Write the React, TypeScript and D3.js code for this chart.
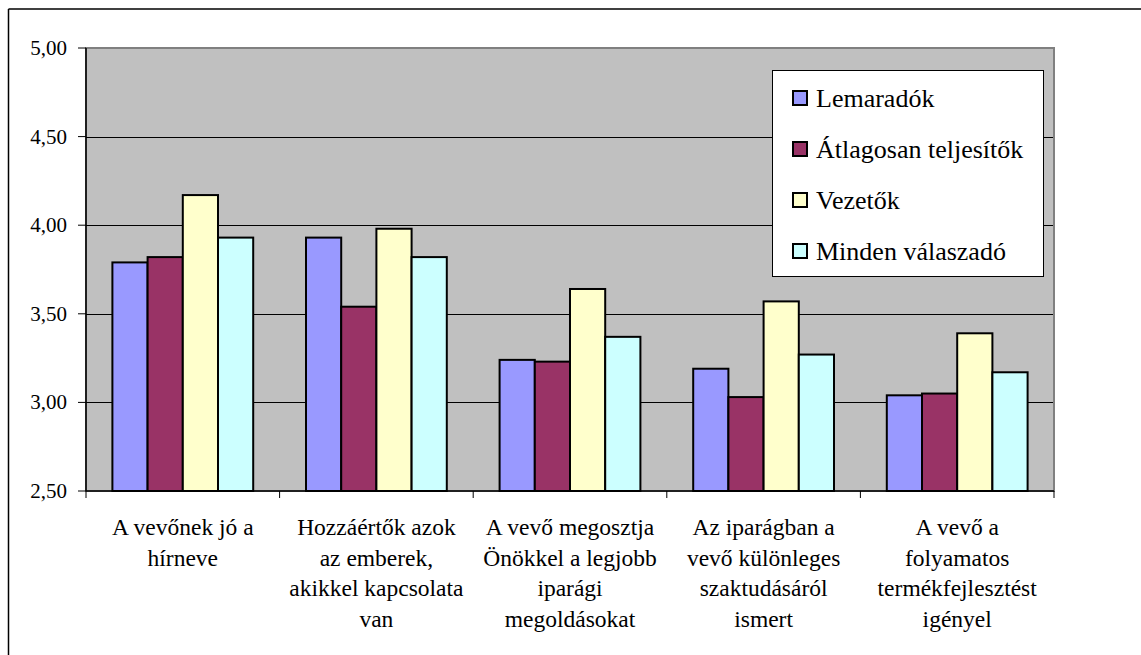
import React from "react";
import * as d3 from "d3";

const width = 1141;
const height = 655;
const plot = { left: 86, right: 1054, top: 48, bottom: 491 };
const font = '"Liberation Serif", "Times New Roman", Times, "DejaVu Serif", serif';

// data
const categories = [
  ["A vevőnek jó a", "hírneve"],
  ["Hozzáértők azok", "az emberek,", "akikkel kapcsolata", "van"],
  ["A vevő megosztja", "Önökkel a legjobb", "iparági", "megoldásokat"],
  ["Az iparágban a", "vevő különleges", "szaktudásáról", "ismert"],
  ["A vevő a", "folyamatos", "termékfejlesztést", "igényel"]
];
const seriesNames = ["Lemaradók", "Átlagosan teljesítők", "Vezetők", "Minden válaszadó"];
const seriesColors = ["#9999FF", "#993366", "#FFFFCC", "#CCFFFF"];
const lemaradok = [3.79, 3.93, 3.24, 3.19, 3.04];
const atlagosan = [3.82, 3.54, 3.23, 3.03, 3.05];
const vezetok = [4.17, 3.98, 3.64, 3.57, 3.39];
const mindenki = [3.93, 3.82, 3.37, 3.27, 3.17];
const seriesValues = [lemaradok, atlagosan, vezetok, mindenki];
const yTicks = [2.5, 3.0, 3.5, 4.0, 4.5, 5.0];

const fmt = (d: number) => d.toFixed(2).replace(".", ",");
const txt = { fontFamily: font };

export default function App() {
  const x0 = d3
    .scaleBand<number>()
    .domain(d3.range(categories.length))
    .range([plot.left, plot.right])
    .paddingInner(0)
    .paddingOuter(0);
  const band = x0.bandwidth();
  const bw = band / 5.5; // excel gap width 150%
  const x1 = d3
    .scaleBand<number>()
    .domain(d3.range(seriesNames.length))
    .range([bw * 0.75, band - bw * 0.75]);
  const y = d3.scaleLinear().domain([2.5, 5]).range([plot.bottom, plot.top]);

  return (
    <svg
      width={width}
      height={height}
      style={{ position: "absolute", left: 0, top: 0, background: "#fff", fontFamily: font }}
    >
      {/* outer frame, only top and left visible */}
      <line x1={8.5} y1={9} x2={width} y2={9} stroke="#000" strokeWidth={1.5} />
      <line x1={8.5} y1={9} x2={8.5} y2={height} stroke="#000" strokeWidth={1.5} />

      {/* plot area */}
      <rect
        x={plot.left}
        y={plot.top}
        width={plot.right - plot.left}
        height={plot.bottom - plot.top}
        fill="#C0C0C0"
        stroke="#808080"
        strokeWidth={2}
      />
      {yTicks.slice(1, -1).map(t => (
        <line
          key={"g" + t}
          x1={plot.left}
          x2={plot.right - 1}
          y1={Math.round(y(t)) + 0.5}
          y2={Math.round(y(t)) + 0.5}
          stroke="#000"
          strokeWidth={1}
        />
      ))}

      {/* bars */}
      {seriesValues.map((vals, s) =>
        vals.map((v, i) => (
          <rect
            key={s + "-" + i}
            x={(x0(i) as number) + (x1(s) as number)}
            y={y(v)}
            width={x1.bandwidth()}
            height={plot.bottom - y(v)}
            fill={seriesColors[s]}
            stroke="#000"
            strokeWidth={2}
          />
        ))
      )}

      {/* y axis */}
      <line x1={plot.left} x2={plot.left} y1={plot.top} y2={plot.bottom} stroke="#000" strokeWidth={1.5} />
      {yTicks.map(t => (
        <g key={"y" + t}>
          <line x1={78} x2={plot.left} y1={y(t)} y2={y(t)} stroke="#000" strokeWidth={1} />
          <text x={67} y={y(t)} dy="0.33em" textAnchor="end" fontSize={21} fill="#000" style={txt}>
            {fmt(t)}
          </text>
        </g>
      ))}

      {/* x axis */}
      <line x1={plot.left} x2={plot.right} y1={plot.bottom} y2={plot.bottom} stroke="#000" strokeWidth={1.5} />
      {d3.range(categories.length + 1).map(i => {
        const xx = plot.left + i * band;
        return <line key={"xt" + i} x1={xx} x2={xx} y1={plot.bottom} y2={plot.bottom + 7} stroke="#000" strokeWidth={1} />;
      })}
      {categories.map((lines, i) => (
        <text
          key={"c" + i}
          x={(x0(i) as number) + band / 2}
          y={535}
          textAnchor="middle"
          fontSize={23.5}
          fill="#000"
          style={txt}
        >
          {lines.map((ln, k) => (
            <tspan key={k} x={(x0(i) as number) + band / 2} y={535 + k * 30.5}>
              {ln}
            </tspan>
          ))}
        </text>
      ))}

      {/* legend */}
      <rect x={772.5} y={70.5} width={271} height={206} fill="#fff" stroke="#000" strokeWidth={1} />
      {seriesNames.map((name, s) => {
        const cy = 98 + s * 51;
        return (
          <g key={"l" + s}>
            <rect x={793} y={cy - 7} width={14} height={14} fill={seriesColors[s]} stroke="#000" strokeWidth={2} />
            <text x={816} y={cy} dy="0.35em" fontSize={26} fill="#000" style={txt}>
              {name}
            </text>
          </g>
        );
      })}
    </svg>
  );
}
